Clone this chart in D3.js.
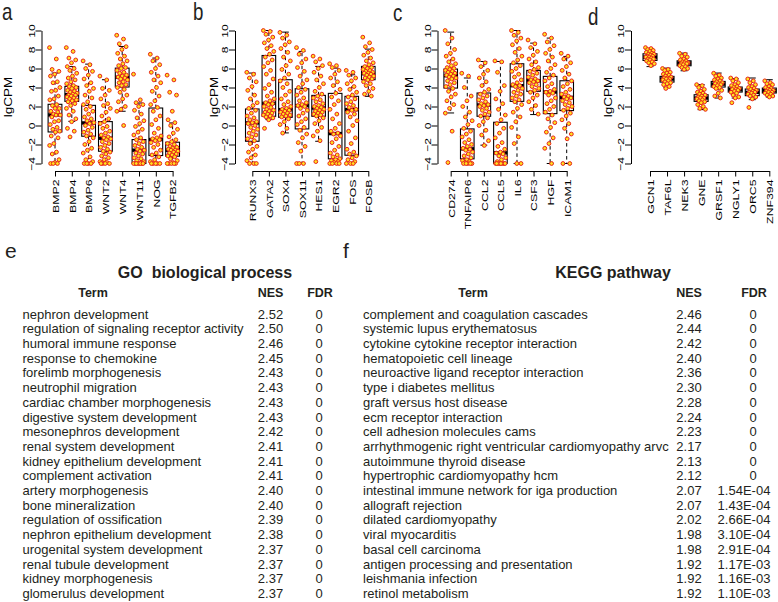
<!DOCTYPE html>
<html lang="en">
<head>
<meta charset="UTF-8">
<title>lgCPM boxplots and enrichment tables</title>
<style>
  body { margin: 0; background: #fff; }
  svg { display: block; font-family: "Liberation Sans", Arial, sans-serif; }
</style>
</head>
<body>
<svg width="778" height="602"></svg>
<script src="https://d3js.org/d3.v7.min.js"></script>
<script>
// shared y ticks of the four boxplots
const yTicks = [-4, -2, 0, 2, 4, 6, 8, 10];

// ---- panel a ----
const aGenes = ["BMP2", "BMP4", "BMP6", "WNT2", "WNT4", "WNT11", "NOG", "TGFB2"];
// [lower whisker, q1, median, q3, upper whisker]
const aStats = [
  [-4, -0.68, 1.11, 2.23, 5.52], [0.44, 2.54, 3.24, 4.12, 6.2], [-4, -1.13, 0.27, 2.12, 6.46], [-4, -2.71, -1.34, 0.41, 4.82],
  [1.5, 4.05, 5.07, 6.04, 8.32], [-4, -4, -2.6, -1.48, 2.37], [-4, -3.16, -1.48, 1.84, 7.1], [-4, -3.23, -2.6, -1.76, 0.27]
];
const aPoints = [
  [8.2, 7.0, 5.9, 5.7, 5.4, 5.2, 4.6, 4.5, 4.0, 3.7, 3.6, 3.1, 2.8, 2.7, 2.2, 2.1, 1.8, 1.8, 1.5, 1.4, 1.2, 1.1, 1.1, 0.9, 0.5, 0.4, 0.1, -0.2, -0.4, -0.6, -0.7, -1.1, -1.3, -1.9, -2.1, -2.8, -3.0, -3.6, -3.9, -4, -4, -4],
  [8.2, 7.8, 7.1, 6.9, 6.6, 6.2, 6.0, 5.8, 5.5, 5.2, 5.0, 4.8, 4.6, 4.4, 4.2, 4.1, 4.0, 3.9, 3.7, 3.6, 3.5, 3.4, 3.3, 3.2, 3.2, 3.1, 3.0, 2.9, 2.8, 2.7, 2.6, 2.5, 2.3, 2.1, 1.8, 1.5, 1.1, 0.7, 0.4, -0.3, -0.6, -1.2],
  [6.8, 6.4, 6.0, 5.7, 5.3, 4.9, 4.5, 4.2, 3.9, 3.6, 3.2, 2.9, 2.5, 2.2, 2.0, 1.7, 1.5, 1.2, 0.9, 0.7, 0.5, 0.3, 0.2, 0.0, -0.2, -0.5, -0.7, -0.9, -1.1, -1.3, -1.7, -2.0, -2.4, -2.6, -2.9, -3.3, -3.6, -3.8, -4, -4, -4, -4],
  [5.2, 4.8, 3.9, 3.7, 3.2, 2.8, 2.3, 2.1, 1.8, 1.4, 1.0, 0.7, 0.4, 0.2, -0.1, -0.3, -0.6, -0.8, -1.0, -1.2, -1.3, -1.4, -1.5, -1.7, -1.9, -2.1, -2.3, -2.5, -2.7, -2.8, -3.0, -3.2, -3.4, -3.6, -3.8, -3.9, -4, -4, -4, -4],
  [9.5, 9.1, 8.6, 8.3, 8.0, 7.6, 7.3, 7.0, 6.8, 6.5, 6.3, 6.1, 6.0, 5.8, 5.6, 5.5, 5.3, 5.2, 5.1, 5.0, 4.9, 4.8, 4.6, 4.5, 4.3, 4.2, 4.0, 3.8, 3.5, 3.2, 2.8, 2.5, 2.0, 1.7, 1.5, 0.0],
  [5.4, 2.7, 2.4, 2.2, 2.0, 1.6, 1.2, 0.8, 0.5, 0.2, -0.1, -0.4, -0.7, -1.0, -1.3, -1.5, -1.7, -1.9, -2.1, -2.3, -2.5, -2.6, -2.7, -2.9, -3.0, -3.2, -3.4, -3.5, -3.7, -3.8, -4, -4, -4, -4, -4, -4, -4, -4],
  [7.5, 7.1, 6.8, 6.4, 6.0, 5.6, 5.2, 4.8, 4.5, 4.0, 3.6, 3.1, 2.6, 2.2, 1.9, 1.5, 1.0, 0.6, 0.1, -0.3, -0.8, -1.1, -1.3, -1.4, -1.5, -1.6, -1.8, -2.0, -2.3, -2.6, -2.9, -3.1, -3.3, -3.6, -3.8, -4, -4, -4, -4, -4],
  [5.3, 4.8, 3.5, 3.2, 1.5, 0.6, 0.3, 0.0, -0.4, -0.8, -1.2, -1.5, -1.7, -1.9, -2.0, -2.2, -2.3, -2.4, -2.5, -2.6, -2.6, -2.7, -2.8, -2.9, -3.0, -3.1, -3.2, -3.3, -3.5, -3.7, -3.9, -4, -4, -4, -4, -4]
];

// ---- panel b ----
const bGenes = ["RUNX3", "GATA2", "SOX4", "SOX11", "HES1", "EGR2", "FOS", "FOSB"];
const bStats = [
  [-4, -1.66, 0.27, 1.74, 5.52], [0.62, 0.97, 2.33, 7.37, 10], [-0.78, 0.86, 1.67, 4.82, 9.83], [-4, -0.36, 2.09, 3.87, 7.8],
  [-1.66, 0.97, 1.84, 3.17, 6.22], [-4, -3.51, -0.85, 3.38, 6.04], [-4, -3.13, 1.67, 3.07, 5.34], [3.07, 4.82, 5.45, 6.22, 8.04]
];
const bPoints = [
  [5.6, 5.4, 5.0, 4.6, 4.1, 3.7, 3.2, 2.8, 2.4, 2.1, 1.8, 1.6, 1.3, 1.0, 0.8, 0.6, 0.4, 0.3, 0.2, 0.0, -0.2, -0.4, -0.6, -0.8, -1.0, -1.2, -1.4, -1.6, -1.9, -2.2, -2.5, -2.8, -3.1, -3.4, -3.7, -4, -4, -4],
  [10.0, 9.9, 9.6, 9.3, 9.0, 8.7, 8.4, 8.1, 7.8, 7.5, 7.2, 6.9, 6.6, 6.2, 5.8, 5.4, 4.9, 4.3, 3.9, 3.5, 3.1, 2.8, 2.6, 2.4, 2.3, 2.2, 2.0, 1.9, 1.7, 1.6, 1.5, 1.4, 1.3, 1.2, 1.1, 1.0, 0.9, 0.8, 0.6, -0.3],
  [9.8, 9.5, 9.2, 8.8, 8.5, 8.1, 7.7, 7.2, 6.8, 6.3, 5.9, 5.4, 5.0, 4.7, 4.4, 4.0, 3.6, 3.2, 2.8, 2.5, 2.2, 2.0, 1.8, 1.7, 1.6, 1.5, 1.4, 1.3, 1.2, 1.1, 1.0, 0.9, 0.7, 0.4, 0.1, -0.3, -0.8],
  [8.2, 7.9, 7.5, 7.0, 6.6, 6.1, 5.7, 5.2, 4.8, 4.4, 4.0, 3.8, 3.5, 3.2, 2.9, 2.6, 2.4, 2.2, 2.1, 2.0, 1.8, 1.6, 1.3, 1.0, 0.7, 0.4, 0.1, -0.2, -0.5, -0.9, -1.3, -1.8, -2.2, -2.7, -4, -4, -4],
  [7.3, 7.0, 6.7, 6.3, 6.0, 5.6, 5.2, 4.8, 4.4, 4.0, 3.6, 3.3, 3.1, 2.9, 2.7, 2.5, 2.3, 2.1, 2.0, 1.9, 1.8, 1.7, 1.6, 1.5, 1.4, 1.3, 1.2, 1.1, 1.0, 0.8, 0.5, 0.2, -0.2, -0.6, -1.1, -1.6, -3.8],
  [6.5, 6.3, 6.1, 5.8, 5.4, 5.0, 4.6, 4.2, 3.8, 3.4, 3.0, 2.6, 2.2, 1.7, 1.2, 0.7, 0.2, -0.3, -0.6, -0.8, -0.9, -1.1, -1.4, -1.8, -2.2, -2.6, -2.9, -3.1, -3.3, -3.5, -3.6, -3.7, -3.8, -3.9, -4, -4, -4, -4],
  [5.8, 5.6, 5.3, 5.0, 4.7, 4.4, 4.1, 3.8, 3.5, 3.2, 3.0, 2.8, 2.5, 2.3, 2.1, 1.9, 1.7, 1.6, 1.4, 1.2, 0.9, 0.5, 0.0, -0.6, -1.3, -1.9, -2.5, -2.8, -3.0, -3.2, -3.4, -3.6, -3.8, -4, -4, -4],
  [9.3, 8.7, 8.3, 8.0, 7.7, 7.4, 7.1, 6.8, 6.6, 6.4, 6.2, 6.1, 6.0, 5.9, 5.8, 5.7, 5.6, 5.5, 5.5, 5.4, 5.3, 5.2, 5.1, 5.0, 4.9, 4.8, 4.6, 4.4, 4.2, 3.9, 3.6, 3.3, 3.1]
];

// ---- panel c ----
const cGenes = ["CD274", "TNFAIP6", "CCL2", "CCL5", "IL6", "CSF3", "HGF", "ICAM1"];
const cStats = [
  [1.32, 3.94, 5.24, 5.94, 9.83], [-4, -3.51, -2.46, -0.36, 5.0], [-2.07, 0.97, 2.16, 3.42, 6.74], [-4, -4, -2.88, 0.34, 6.74],
  [-4, 2.54, 4.19, 6.5, 10], [1.15, 3.6, 4.71, 5.8, 8.67], [-4, 1.25, 3.52, 5.17, 9.2], [-4, 1.57, 2.96, 4.71, 7.27]
];
const cPoints = [
  [10.0, 9.2, 8.6, 8.0, 7.6, 7.3, 7.0, 6.7, 6.5, 6.3, 6.1, 6.0, 5.9, 5.8, 5.7, 5.6, 5.5, 5.4, 5.3, 5.2, 5.1, 5.0, 4.9, 4.7, 4.5, 4.3, 4.1, 3.9, 3.6, 3.3, 3.0, 2.6, 2.2, 1.8, 1.3, -0.6, -3.9],
  [5.5, 5.2, 4.0, 3.1, 2.6, 2.0, 1.4, 0.9, 0.5, 0.1, -0.3, -0.6, -0.9, -1.2, -1.5, -1.8, -2.0, -2.2, -2.4, -2.5, -2.6, -2.8, -3.0, -3.2, -3.4, -3.6, -3.7, -3.8, -3.9, -4, -4, -4, -4, -4],
  [6.9, 6.6, 6.2, 5.8, 5.4, 5.0, 4.6, 4.2, 3.8, 3.5, 3.3, 3.1, 2.9, 2.7, 2.5, 2.3, 2.2, 2.1, 2.0, 1.8, 1.6, 1.4, 1.2, 1.0, 0.8, 0.4, 0.0, -0.5, -1.0, -1.6, -2.1],
  [6.8, 6.7, 5.6, 4.2, 3.6, 2.8, 2.3, 1.7, 1.1, 0.6, 0.2, -0.3, -0.8, -1.3, -1.8, -2.2, -2.5, -2.8, -2.9, -3.0, -3.2, -3.4, -3.6, -3.8, -4, -4, -4, -4, -4, -4, -4, -4],
  [10.0, 9.8, 9.5, 9.2, 8.9, 8.5, 8.1, 7.7, 7.3, 6.9, 6.6, 6.3, 6.0, 5.7, 5.4, 5.1, 4.8, 4.5, 4.3, 4.2, 4.1, 3.9, 3.7, 3.5, 3.3, 3.1, 2.9, 2.7, 2.5, 2.2, 1.8, 1.4, 0.9, 0.4, -0.2, -1.2, -1.9, -4, -4],
  [9.0, 8.6, 8.2, 7.8, 7.4, 7.0, 6.7, 6.4, 6.1, 5.9, 5.7, 5.5, 5.3, 5.1, 4.9, 4.8, 4.7, 4.6, 4.5, 4.3, 4.1, 3.9, 3.7, 3.5, 3.2, 2.9, 2.5, 2.1, 1.7, 1.2],
  [9.6, 9.2, 8.8, 8.4, 8.0, 7.6, 7.2, 6.8, 6.4, 6.0, 5.6, 5.3, 5.0, 4.7, 4.4, 4.1, 3.8, 3.6, 3.5, 3.4, 3.2, 2.9, 2.6, 2.3, 2.0, 1.7, 1.4, 1.1, 0.7, 0.3, -0.2, -0.7, -1.3, -1.9, -2.4, -4],
  [7.6, 7.3, 7.0, 6.6, 6.2, 5.8, 5.4, 5.0, 4.7, 4.4, 4.1, 3.8, 3.5, 3.3, 3.1, 3.0, 2.9, 2.8, 2.6, 2.4, 2.2, 2.0, 1.8, 1.6, 1.3, 1.0, 0.6, 0.2, -0.3, -0.9, -1.4, -4, -4]
];

// ---- panel d ----
const dGenes = ["GCN1", "TAF6L", "NEK3", "GNE", "GRSF1", "NGLY1", "ORC5", "ZNF394"];
const dStats = [
  [6.2, 6.85, 7.2, 7.55, 8.1], [4.0, 4.57, 4.89, 5.17, 6.04], [5.76, 6.29, 6.57, 6.81, 7.62], [1.67, 2.54, 2.89, 3.24, 4.3],
  [2.89, 4.05, 4.36, 4.64, 5.52], [2.89, 3.52, 3.77, 4.05, 4.92], [2.72, 3.14, 3.49, 3.84, 5.0], [3.0, 3.42, 3.66, 3.94, 4.82]
];
const dPoints = [
  [8.2, 8.1, 8.0, 7.9, 7.8, 7.7, 7.6, 7.5, 7.5, 7.4, 7.3, 7.3, 7.2, 7.2, 7.1, 7.0, 7.0, 6.9, 6.8, 6.7, 6.6, 6.5, 6.3],
  [6.0, 5.9, 5.8, 5.6, 5.5, 5.4, 5.3, 5.2, 5.1, 5.0, 5.0, 4.9, 4.9, 4.8, 4.7, 4.6, 4.5, 4.4, 4.3, 4.1, 3.9],
  [7.6, 7.5, 7.3, 7.2, 7.0, 6.9, 6.8, 6.7, 6.6, 6.6, 6.5, 6.5, 6.4, 6.3, 6.2, 6.1, 6.0, 5.9],
  [4.3, 4.2, 4.0, 3.8, 3.6, 3.5, 3.4, 3.3, 3.2, 3.1, 3.0, 2.9, 2.9, 2.8, 2.7, 2.6, 2.5, 2.4, 2.2, 2.0, 1.8, 1.7],
  [5.5, 5.3, 5.2, 5.0, 4.9, 4.8, 4.7, 4.6, 4.5, 4.4, 4.4, 4.3, 4.2, 4.1, 4.0, 3.9, 3.7, 3.4, 3.1, 2.9],
  [5.0, 4.9, 4.7, 4.5, 4.3, 4.2, 4.1, 4.0, 3.9, 3.8, 3.8, 3.7, 3.6, 3.5, 3.4, 3.2, 3.0, 2.9, 2.4],
  [4.9, 4.7, 4.5, 4.3, 4.1, 4.0, 3.9, 3.8, 3.7, 3.6, 3.5, 3.5, 3.4, 3.3, 3.2, 3.1, 3.0, 2.8, 1.9],
  [4.7, 4.5, 4.4, 4.3, 4.1, 4.0, 3.9, 3.8, 3.7, 3.7, 3.6, 3.5, 3.5, 3.4, 3.3, 3.2, 3.1, 3.0]
];

// ---- tables e / f ----
const goTerms = ["nephron development", "regulation of signaling receptor activity", "humoral immune response",
  "response to chemokine", "forelimb morphogenesis", "neutrophil migration", "cardiac chamber morphogenesis",
  "digestive system development", "mesonephros development", "renal system development",
  "kidney epithelium development", "complement activation", "artery morphogenesis", "bone mineralization",
  "regulation of ossification", "nephron epithelium development", "urogenital system development",
  "renal tubule development", "kidney morphogenesis", "glomerulus development"];
const goNES = [2.52, 2.50, 2.46, 2.45, 2.43, 2.43, 2.43, 2.43, 2.42, 2.41, 2.41, 2.41, 2.40, 2.40, 2.39, 2.38, 2.37, 2.37, 2.37, 2.37];
const goFDR = [0, 0, 0, 0, 0, 0, 0, 0, 0, 0, 0, 0, 0, 0, 0, 0, 0, 0, 0, 0];

const keggTerms = ["complement and coagulation cascades", "systemic lupus erythematosus",
  "cytokine cytokine receptor interaction", "hematopoietic cell lineage", "neuroactive ligand receptor interaction",
  "type i diabetes mellitus", "graft versus host disease", "ecm receptor interaction", "cell adhesion molecules cams",
  "arrhythmogenic right ventricular cardiomyopathy arvc", "autoimmune thyroid disease",
  "hypertrophic cardiomyopathy hcm", "intestinal immune network for iga production", "allograft rejection",
  "dilated cardiomyopathy", "viral myocarditis", "basal cell carcinoma", "antigen processing and presentation",
  "leishmania infection", "retinol metabolism"];
const keggNES = [2.46, 2.44, 2.42, 2.40, 2.36, 2.30, 2.28, 2.24, 2.23, 2.17, 2.13, 2.12, 2.07, 2.07, 2.02, 1.98, 1.98, 1.92, 1.92, 1.92];
const keggFDR = [0, 0, 0, 0, 0, 0, 0, 0, 0, 0, 0, 0, 1.54e-4, 1.43e-4, 2.66e-4, 3.10e-4, 2.91e-4, 1.17e-3, 1.16e-3, 1.10e-3];

const svg = d3.select("svg");
const ink = "#231f20";
const squeeze = "scale(0.78,1)";   // the boxplot lettering is narrow in the original

// y scale is the same for all four boxplots
const y = d3.scaleLinear().domain([-4, 10]).range([163.5, 30.5]);

const panels = [
  { tag: "a", genes: aGenes, stats: aStats, pts: aPoints, axisX: 41.5, x0: 55, x1: 172.6, labX: 11.5, tagX: 2, tagY: 20, jit: 5.5 },
  { tag: "b", genes: bGenes, stats: bStats, pts: bPoints, axisX: 235, x0: 252.3, x1: 368.3, labX: 218, tagX: 193, tagY: 20, jit: 5.5 },
  { tag: "c", genes: cGenes, stats: cStats, pts: cPoints, axisX: 437.5, x0: 450.7, x1: 566.7, labX: 413, tagX: 393, tagY: 21, jit: 5.5 },
  { tag: "d", genes: dGenes, stats: dStats, pts: dPoints, axisX: 631, x0: 650, x1: 769.3, labX: 612, tagX: 588, tagY: 25, jit: 4.5 }
];

// deterministic horizontal spread for the strip points
const jitter = (j, w) => (((j * 0.6180339887) % 1) - 0.5) * 2 * w;

panels.forEach(p => {
  const g = svg.append("g");
  const x = d3.scalePoint().domain(p.genes).range([p.x0, p.x1]);
  const boxW = x.step() * 0.82;

  // panel letter
  g.append("text")
    .attr("transform", `translate(${p.tagX},${p.tagY}) ${squeeze}`)
    .attr("font-size", 24).attr("fill", ink)
    .text(p.tag);

  // y axis
  const ya = g.append("g")
    .attr("transform", `translate(${p.axisX},0)`)
    .call(d3.axisLeft(y).tickValues(yTicks).tickSize(6).tickSizeOuter(0));
  ya.attr("font-family", null).attr("font-size", null);
  ya.selectAll("path, line").attr("stroke", "#000");
  ya.selectAll("text")
    .attr("x", null).attr("dy", null)
    .attr("text-anchor", "middle").attr("font-size", 12).attr("fill", "#000")
    .attr("transform", `translate(-7,0) ${squeeze} rotate(-90)`);

  g.append("text")
    .attr("transform", `translate(${p.labX},97) ${squeeze} rotate(-90)`)
    .attr("text-anchor", "middle").attr("font-size", 13.5).attr("fill", "#000")
    .text("lgCPM");

  // x axis
  const xa = g.append("g")
    .attr("transform", "translate(0,171)")
    .call(d3.axisBottom(x).tickSize(5.5).tickSizeOuter(0));
  xa.attr("font-family", null).attr("font-size", null);
  xa.selectAll("path, line").attr("stroke", "#000");
  xa.selectAll("text")
    .attr("y", null).attr("dy", "0.35em")
    .attr("text-anchor", "end").attr("font-size", 12.3).attr("fill", "#000")
    .attr("transform", `translate(0,8.5) ${squeeze} rotate(-90)`);

  // boxes
  const box = g.selectAll("g.box")
    .data(p.genes.map((gene, i) => ({ gene, s: p.stats[i] })))
    .join("g").attr("class", "box")
    .attr("transform", d => `translate(${x(d.gene)},0)`);

  box.append("line")
    .attr("y1", d => y(d.s[3])).attr("y2", d => y(d.s[4]))
    .attr("stroke", "#000").attr("stroke-dasharray", "3.5,3");
  box.append("line")
    .attr("y1", d => y(d.s[1])).attr("y2", d => y(d.s[0]))
    .attr("stroke", "#000").attr("stroke-dasharray", "3.5,3");
  box.selectAll("line.staple")
    .data(d => [d.s[0], d.s[4]])
    .join("line").attr("class", "staple")
    .attr("x1", -boxW / 4).attr("x2", boxW / 4)
    .attr("y1", v => y(v)).attr("y2", v => y(v))
    .attr("stroke", "#000");
  box.append("rect")
    .attr("x", -boxW / 2).attr("width", boxW)
    .attr("y", d => y(d.s[3])).attr("height", d => y(d.s[1]) - y(d.s[3]))
    .attr("fill", "none").attr("stroke", "#000").attr("stroke-width", 1.1);
  box.append("line")
    .attr("x1", -boxW / 2).attr("x2", boxW / 2)
    .attr("y1", d => y(d.s[2])).attr("y2", d => y(d.s[2]))
    .attr("stroke", "#000").attr("stroke-width", 3.4);

  // strip points on top
  p.genes.forEach((gene, i) => {
    g.append("g").selectAll("circle")
      .data(p.pts[i])
      .join("circle")
      .attr("cx", (v, j) => x(gene) + jitter(j, p.jit))
      .attr("cy", v => y(v))
      .attr("r", 1.9)
      .attr("fill", "#ffe21f")
      .attr("stroke", "#e8231b")
      .attr("stroke-width", 1);
  });
});

// ---- tables ----
const fmtNES = d3.format(".2f");
const fmtFDR = v => {
  if (v === 0) return "0";
  const [m, e] = v.toExponential(2).split("e");
  const n = Math.abs(+e);
  return `${m}E${+e < 0 ? "-" : "+"}${n < 10 ? "0" + n : n}`;
};
const row = d3.scaleLinear().domain([0, 19]).range([318.6, 597.9]);

const tables = [
  { tag: "e", tagX: 5, title: "GO  biological process", titleX: 205, terms: goTerms, nes: goNES, fdr: goFDR,
    termHead: 93, termX: 22.5, nesX: 270.5, fdrHead: 320, fdrZero: 319, fdrVal: 319 },
  { tag: "f", tagX: 343, title: "KEGG pathway", titleX: 613, terms: keggTerms, nes: keggNES, fdr: keggFDR,
    termHead: 473, termX: 363, nesX: 689, fdrHead: 754, fdrZero: 753, fdrVal: 744 }
];

tables.forEach(t => {
  const g = svg.append("g").attr("fill", ink);
  g.append("text").attr("x", t.tagX).attr("y", 258).attr("font-size", 21).text(t.tag);
  g.append("text").attr("x", t.titleX).attr("y", 278)
    .attr("text-anchor", "middle").attr("font-size", 16).attr("font-weight", "bold")
    .style("white-space", "pre").text(t.title);

  const head = [["Term", t.termHead], ["NES", t.nesX], ["FDR", t.fdrHead]];
  g.selectAll("text.head").data(head).join("text").attr("class", "head")
    .attr("x", d => d[1]).attr("y", 297)
    .attr("text-anchor", "middle").attr("font-size", 12.5).attr("font-weight", "bold")
    .text(d => d[0]);

  g.selectAll("text.term").data(t.terms).join("text").attr("class", "term")
    .attr("x", t.termX).attr("y", (d, i) => row(i))
    .attr("font-size", 13).text(d => d);
  g.selectAll("text.nes").data(t.nes).join("text").attr("class", "nes")
    .attr("x", t.nesX).attr("y", (d, i) => row(i))
    .attr("text-anchor", "middle").attr("font-size", 13).text(d => fmtNES(d));
  g.selectAll("text.fdr").data(t.fdr).join("text").attr("class", "fdr")
    .attr("x", d => d === 0 ? t.fdrZero : t.fdrVal).attr("y", (d, i) => row(i))
    .attr("text-anchor", "middle").attr("font-size", 13).text(d => fmtFDR(d));
});
</script>
</body>
</html>
